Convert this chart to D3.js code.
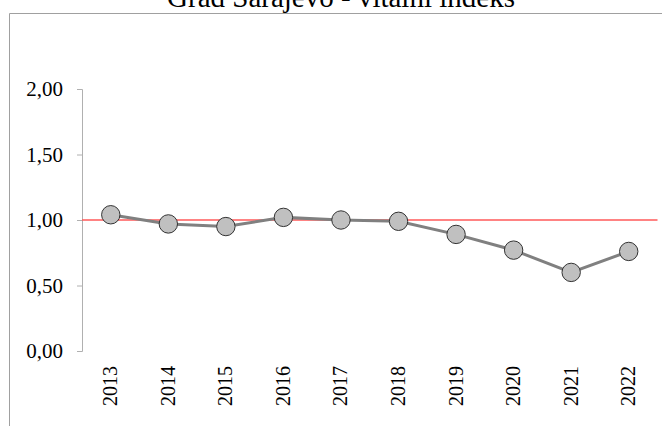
<!DOCTYPE html>
<html>
<head>
<meta charset="utf-8">
<script src="https://cdn.jsdelivr.net/npm/d3@7"></script>
<style>
  html, body { margin: 0; padding: 0; background: #fff; }
  svg { display: block; }
  text { font-family: "Liberation Serif", "Times New Roman", serif; fill: #000; }
</style>
</head>
<body>
<svg id="chart" width="662" height="426"></svg>
<script>
const title = "Grad Sarajevo - vitalni indeks";
const years = ["2013", "2014", "2015", "2016", "2017", "2018", "2019", "2020", "2021", "2022"];
const vitalIndex = [1.04, 0.97, 0.95, 1.02, 1.00, 0.99, 0.89, 0.77, 0.60, 0.76];
const yTicks = [0, 0.5, 1, 1.5, 2];
const referenceLevel = 1.0;

const svg = d3.select("#chart");

// chart area frame
svg.append("path")
  .attr("d", "M9.5,426 V13.5 H662")
  .attr("fill", "none")
  .attr("stroke", "#a0a0a0")
  .attr("stroke-width", 1);

// title sits above the frame, partly clipped by the top edge
svg.append("text")
  .attr("x", 341)
  .attr("y", 7)
  .attr("text-anchor", "middle")
  .style("font-size", "29px")
  .text(title);

const x = d3.scaleBand().domain(years).range([82, 657.5]);
const y = d3.scaleLinear().domain([0, 2]).range([351, 89]);

const fmt = d => d3.format(".2f")(d).replace(".", ",");

// y axis
const yAxis = svg.append("g")
  .attr("transform", "translate(82,0)")
  .call(d3.axisLeft(y).tickValues(yTicks).tickFormat(fmt).tickSize(5).tickPadding(14));
yAxis.select(".domain").attr("stroke", "#b0b0b0").attr("stroke-width", 1);
yAxis.selectAll(".tick line").attr("stroke", "#b0b0b0");
yAxis.selectAll(".tick text")
  .style("font-size", "21px")
  .style("font-family", "'Liberation Serif', 'Times New Roman', serif")
  .attr("fill", "#000");

// x labels (rotated)
svg.append("g").selectAll("text")
  .data(years)
  .join("text")
  .attr("transform", d => `translate(${x(d) + x.bandwidth() / 2 + 6.5},366) rotate(-90)`)
  .attr("text-anchor", "end")
  .style("font-size", "20px")
  .text(d => d);

// reference line at 1,00
svg.append("line")
  .attr("x1", 82).attr("x2", 657.5)
  .attr("y1", y(referenceLevel)).attr("y2", y(referenceLevel))
  .attr("stroke", "#ff5a5a")
  .attr("stroke-width", 1.3);

// series line
const line = d3.line()
  .x((d, i) => x(years[i]) + x.bandwidth() / 2)
  .y(d => y(d));
svg.append("path")
  .datum(vitalIndex)
  .attr("d", line)
  .attr("fill", "none")
  .attr("stroke", "#808080")
  .attr("stroke-width", 3);

// markers
svg.append("g").selectAll("circle")
  .data(vitalIndex)
  .join("circle")
  .attr("cx", (d, i) => x(years[i]) + x.bandwidth() / 2)
  .attr("cy", d => y(d))
  .attr("r", 9.2)
  .attr("fill", "#c0c0c0")
  .attr("stroke", "#333")
  .attr("stroke-width", 1);
</script>
</body>
</html>
